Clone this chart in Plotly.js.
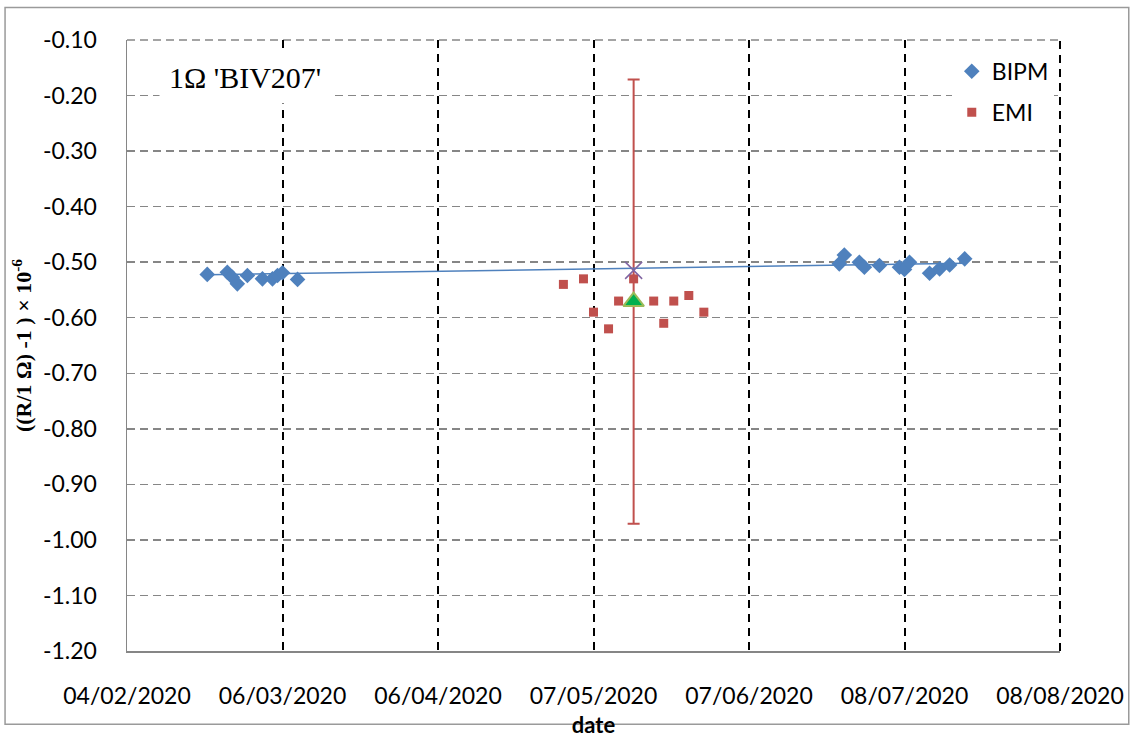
<!DOCTYPE html>
<html>
<head>
<meta charset="utf-8">
<script src="https://cdn.plot.ly/plotly-3.0.1.min.js"></script>
<style>html,body{margin:0;padding:0;background:#fff;}#chart{width:1134px;height:742px;}</style>
</head>
<body>
<div id="chart"></div>
<script>
// BIPM measurements
const bipmDates = ["2020-02-20","2020-02-24","2020-02-25","2020-02-26","2020-02-28","2020-03-02","2020-03-04","2020-03-05","2020-03-06","2020-03-09",
                   "2020-06-25","2020-06-26","2020-06-29","2020-06-30","2020-07-03","2020-07-07","2020-07-08","2020-07-09","2020-07-13","2020-07-15","2020-07-17","2020-07-20"];
const bipmValues = [-0.522,-0.518,-0.527,-0.539,-0.524,-0.530,-0.530,-0.524,-0.519,-0.531,
                    -0.503,-0.487,-0.500,-0.509,-0.506,-0.509,-0.513,-0.500,-0.520,-0.512,-0.505,-0.494];
// EMI measurements
const emiDates = ["2020-05-01","2020-05-05","2020-05-07","2020-05-10","2020-05-12","2020-05-15","2020-05-19","2020-05-21","2020-05-23","2020-05-26","2020-05-29"];
const emiValues = [-0.54,-0.53,-0.59,-0.62,-0.57,-0.53,-0.57,-0.61,-0.57,-0.56,-0.59];
// BIPM linear fit (end points)
const fitDates = ["2020-02-20","2020-07-20"];
const fitValues = [-0.5225,-0.5020];
// BIPM value at mean EMI date
const bipmMeanDate = ["2020-05-15"];
const bipmMeanValue = [-0.5148];
// EMI mean and uncertainty
const emiMeanDate = ["2020-05-15"];
const emiMeanValue = [-0.571];
const emiMeanUnc = [0.40];
// Axis ticks
const yTickVals = [-0.10,-0.20,-0.30,-0.40,-0.50,-0.60,-0.70,-0.80,-0.90,-1.00,-1.10,-1.20];
const yTickLabels = ["-0.10","-0.20","-0.30","-0.40","-0.50","-0.60","-0.70","-0.80","-0.90","-1.00","-1.10","-1.20"];
const yRange = [-1.2, -0.1];
const xRange = ["2020-02-04","2020-08-08"];
const xTick0 = "2020-02-04";
const xTickDays = 31;

const tickFont = {family: "Lato, 'Liberation Sans', sans-serif", size: 23, color: "#000"};

const traces = [
  {x: emiMeanDate, y: emiMeanValue, type: "scatter", mode: "markers", showlegend: false, hoverinfo: "skip",
   marker: {size: 1, color: "rgba(0,0,0,0)"},
   error_y: {type: "data", array: emiMeanUnc, visible: true, color: "#C0504D", thickness: 2, width: 6}},
  {x: fitDates, y: fitValues, type: "scatter", mode: "lines", showlegend: false,
   line: {color: "#4F81BD", width: 1.5}},
  {x: bipmDates, y: bipmValues, type: "scatter", mode: "markers", name: "BIPM", legendgroup: "a",
   marker: {symbol: "diamond", size: 12, color: "#4F81BD"}},
  {x: emiDates, y: emiValues, type: "scatter", mode: "markers", name: "EMI", legendgroup: "b",
   marker: {symbol: "square", size: 9, color: "#C0504D"}},
  {x: bipmMeanDate, y: bipmMeanValue, type: "scatter", mode: "markers", showlegend: false,
   marker: {symbol: "x-thin-open", size: 17, color: "#8064A2", line: {color: "#8064A2", width: 1.5}}},
  {x: emiMeanDate, y: emiMeanValue, type: "scatter", mode: "markers", showlegend: false,
   marker: {symbol: "triangle-up", size: 18, color: "#00B050", line: {color: "#9BBB59", width: 2}}}
];

const layout = {
  width: 1134, height: 742,
  margin: {l: 127, r: 74, t: 40, b: 91, pad: 0},
  paper_bgcolor: "#fff", plot_bgcolor: "#fff",
  showlegend: true,
  legend: {x: 0.884, y: 0.984, xanchor: "left", yanchor: "top", bgcolor: "#fff",
           font: {family: "Lato, 'Liberation Sans', sans-serif", size: 23, color: "#000"},
           tracegroupgap: 8, itemwidth: 30},
  xaxis: {
    type: "date", range: xRange, tick0: xTick0, dtick: xTickDays * 86400000,
    tickformat: "%d/%m/%Y", tickfont: tickFont,
    showgrid: true, gridcolor: "#000", gridwidth: 2, griddash: "8px,6px",
    showline: true, linecolor: "#868686", linewidth: 1.5,
    ticks: "outside", ticklen: 24, tickcolor: "rgba(0,0,0,0)",
    zeroline: false, fixedrange: true,
    title: {text: "date", font: {family: "Lato, 'Liberation Sans', sans-serif", size: 22, color: "#000", weight: "bold"}, standoff: 9}
  },
  yaxis: {
    range: yRange, tickvals: yTickVals, ticktext: yTickLabels, tickfont: tickFont,
    showgrid: true, gridcolor: "#868686", gridwidth: 1.5, griddash: "8px,5px",
    showline: true, linecolor: "#868686", linewidth: 1.5,
    ticks: "outside", ticklen: 24, tickcolor: "rgba(0,0,0,0)",
    zeroline: false, fixedrange: true,
    title: {text: "((R/1 Ω) -1 ) × 10<sup>-6</sup>", font: {family: "'Liberation Serif', serif", size: 22, color: "#000", weight: "bold"}, standoff: 5}
  },
  annotations: [
    {xref: "paper", yref: "paper", x: 0.127, y: 0.938, xanchor: "center", yanchor: "middle",
     text: "1Ω 'BIV207'", showarrow: false, bgcolor: "#fff", borderpad: 9,
     font: {family: "'Liberation Serif', serif", size: 30, color: "#000"}}
  ],
  shapes: [
    {type: "rect", xref: "paper", yref: "paper", x0: -0.1307, x1: 1.0737, y0: 1.0532, y1: -0.12,
     line: {color: "#9a9a9a", width: 1.5}, fillcolor: "rgba(0,0,0,0)", layer: "below"},
    // top edge grid line (-0.10) and right edge grid line (08/08/2020)
    {type: "line", xref: "paper", yref: "paper", x0: 0, x1: 1, y0: 1, y1: 1,
     line: {color: "#868686", width: 1.5, dash: "8px,5px"}, layer: "below"},
    {type: "line", xref: "paper", yref: "paper", x0: 1, x1: 1, y0: 0, y1: 1,
     line: {color: "#000", width: 2, dash: "8px,6px"}, layer: "below"}
  ]
};

Plotly.newPlot("chart", traces, layout, {displayModeBar: false, staticPlot: true});
</script>
</body>
</html>
